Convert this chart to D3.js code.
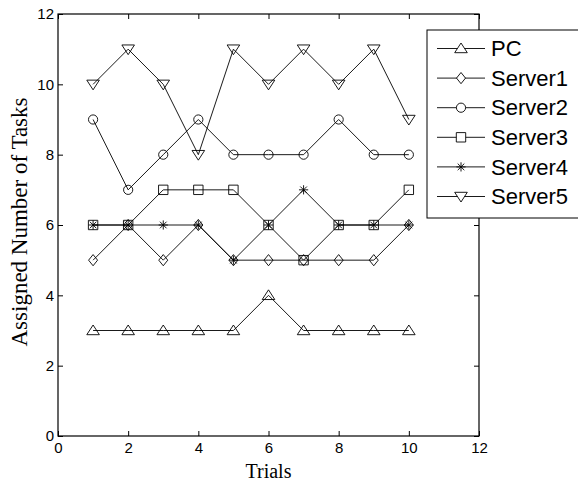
<!DOCTYPE html>
<html>
  <head>
    <meta charset="utf-8">
    <script src="https://cdn.jsdelivr.net/npm/d3@7"></script>
    <style>
      body { margin: 0; background: #fff; }
      svg { display: block; }
    </style>
  </head>
  <body>
    <svg id="chart" width="578" height="485"></svg>
    <script>
      // data
      var trials = [1, 2, 3, 4, 5, 6, 7, 8, 9, 10];
      var seriesNames = ["PC", "Server1", "Server2", "Server3", "Server4", "Server5"];
      var pc      = [3, 3, 3, 3, 3, 4, 3, 3, 3, 3];
      var server1 = [5, 6, 5, 6, 5, 5, 5, 5, 5, 6];
      var server2 = [9, 7, 8, 9, 8, 8, 8, 9, 8, 8];
      var server3 = [6, 6, 7, 7, 7, 6, 5, 6, 6, 7];
      var server4 = [6, 6, 6, 6, 5, 6, 7, 6, 6, 6];
      var server5 = [10, 11, 10, 8, 11, 10, 11, 10, 11, 9];
      var xTicks = [0, 2, 4, 6, 8, 10, 12];
      var yTicks = [0, 2, 4, 6, 8, 10, 12];

      var values = [pc, server1, server2, server3, server4, server5];
      var markers = ["triUp", "diamond", "circle", "square", "star", "triDown"];

      var svg = d3.select("#chart");
      var pLeft = 58, pRight = 479, pTop = 14, pBottom = 436;

      var x = d3.scaleLinear().domain([0, 12]).range([pLeft, pRight]);
      var y = d3.scaleLinear().domain([0, 12]).range([pBottom, pTop]);

      // marker shapes, roughly matlab sized
      function markerPath(type) {
        switch (type) {
          case "triUp": return "M0,-5.5L6.3,4.2L-6.3,4.2Z";
          case "triDown": return "M0,5.5L6.3,-4.2L-6.3,-4.2Z";
          case "diamond": return "M0,-5.6L4.5,0L0,5.6L-4.5,0Z";
          case "square": return "M-4.7,-4.7H4.7V4.7H-4.7Z";
          case "circle": return "M4.6,0A4.6,4.6 0 1,1 -4.6,0A4.6,4.6 0 1,1 4.6,0Z";
          case "star": return "M0,-4.6V4.6M-4.6,0H4.6M-3.3,-3.3L3.3,3.3M-3.3,3.3L3.3,-3.3";
        }
      }

      function styleAxis(g) {
        g.select(".domain").remove();
        g.selectAll(".tick line").attr("stroke", "#000");
        g.selectAll(".tick text")
          .attr("fill", "#000")
          .style("font-family", "'Liberation Sans', Arial, sans-serif")
          .style("font-size", "15px");
      }

      // axes, ticks pointing inwards like matlab
      svg.append("g")
        .attr("transform", "translate(0," + pBottom + ")")
        .call(d3.axisBottom(x).tickValues(xTicks).tickSizeInner(-5).tickSizeOuter(0).tickPadding(6).tickFormat(d3.format("d")))
        .call(styleAxis);
      svg.append("g")
        .attr("transform", "translate(" + pLeft + ",0)")
        .call(d3.axisLeft(y).tickValues(yTicks).tickSizeInner(-5).tickSizeOuter(0).tickPadding(4).tickFormat(d3.format("d")))
        .call(styleAxis);
      svg.append("g")
        .attr("transform", "translate(0," + pTop + ")")
        .call(d3.axisTop(x).tickValues(xTicks).tickSizeInner(-5).tickSizeOuter(0).tickFormat(""))
        .call(styleAxis);
      svg.append("g")
        .attr("transform", "translate(" + pRight + ",0)")
        .call(d3.axisRight(y).tickValues(yTicks).tickSizeInner(-5).tickSizeOuter(0).tickFormat(""))
        .call(styleAxis);

      svg.append("rect")
        .attr("x", pLeft).attr("y", pTop)
        .attr("width", pRight - pLeft).attr("height", pBottom - pTop)
        .attr("fill", "none").attr("stroke", "#000").attr("stroke-width", 1.2);

      var line = d3.line()
        .x(function(d, i) { return x(trials[i]); })
        .y(function(d) { return y(d); });

      values.forEach(function(vals, s) {
        var g = svg.append("g");
        g.append("path")
          .attr("d", line(vals))
          .attr("fill", "none").attr("stroke", "#000").attr("stroke-width", 0.9);
        g.selectAll("path.m").data(vals).enter().append("path")
          .attr("class", "m")
          .attr("transform", function(d, i) { return "translate(" + x(trials[i]) + "," + y(d) + ")"; })
          .attr("d", markerPath(markers[s]))
          .attr("fill", "none").attr("stroke", "#000").attr("stroke-width", 0.9);
      });

      // axis labels
      svg.append("text")
        .attr("x", (pLeft + pRight) / 2).attr("y", 478)
        .attr("text-anchor", "middle")
        .style("font-family", "'Liberation Serif', 'Times New Roman', serif")
        .style("font-size", "20px")
        .text("Trials");
      svg.append("text")
        .attr("transform", "translate(27,222) rotate(-90)")
        .attr("text-anchor", "middle")
        .style("font-family", "'Liberation Serif', 'Times New Roman', serif")
        .style("font-size", "23px")
        .text("Assigned Number of Tasks");

      // legend
      var legend = svg.append("g");
      legend.append("rect")
        .attr("x", 427).attr("y", 30).attr("width", 160).attr("height", 188)
        .attr("fill", "#fff").attr("stroke", "#000").attr("stroke-width", 1);
      seriesNames.forEach(function(name, i) {
        var ly = 48.5 + i * 29.6;
        legend.append("line")
          .attr("x1", 437).attr("x2", 485).attr("y1", ly).attr("y2", ly)
          .attr("stroke", "#000").attr("stroke-width", 0.9);
        legend.append("path")
          .attr("transform", "translate(461," + ly + ")")
          .attr("d", markerPath(markers[i]))
          .attr("fill", "#fff").attr("stroke", "#000").attr("stroke-width", 0.9);
        legend.append("text")
          .attr("x", 491).attr("y", ly).attr("dy", "0.35em")
          .style("font-family", "'Liberation Sans', Arial, sans-serif")
          .style("font-size", "22px")
          .text(name);
      });
    </script>
  </body>
</html>
